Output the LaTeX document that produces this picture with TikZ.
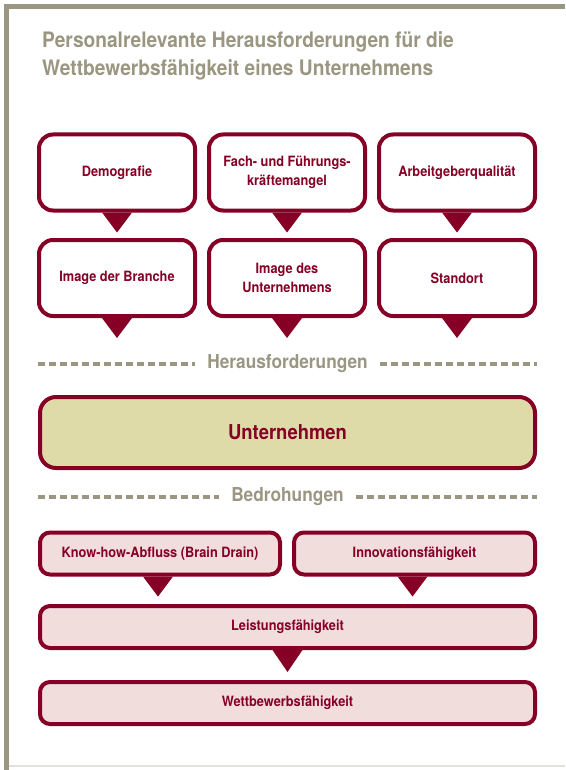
\documentclass[tikz,border=0pt]{standalone}
\usepackage{fontspec}
\setmainfont{TeX Gyre Heros}[FakeStretch=0.9]
\usepackage{tikz}
\usetikzlibrary{positioning}
\definecolor{HGray}{RGB}{154,150,130}
\definecolor{HRed}{RGB}{134,0,38}
\definecolor{HSand}{RGB}{223,219,168}
\definecolor{HRose}{RGB}{242,221,221}
\definecolor{HLine}{RGB}{226,226,216}

\begin{document}
\begin{tikzpicture}[
    x=1pt, y=-1pt,
    bubble/.style={
      draw=HRed,
      line width=4pt,
      rounded corners=14pt,
      fill=white,
      minimum width=156pt,
      minimum height=76pt,
      align=center,
      text=HRed,
      font=\fontsize{14.2}{19}\selectfont\bfseries
    },
    bar/.style={
      draw=HRed,
      line width=4pt,
      rounded corners=10pt,
      fill=HRose,
      minimum height=42pt,
      text height=10.5pt,
      text depth=3.5pt,
      text=HRed,
      font=\fontsize{14.2}{17}\selectfont\bfseries
    },
    core/.style={
      draw=HRed,
      line width=4pt,
      rounded corners=16pt,
      fill=HSand,
      minimum width=495pt,
      minimum height=71pt,
      text=HRed,
      font=\fontsize{20.5}{24}\selectfont\bfseries
    },
    heading/.style={
      text=HGray,
      inner xsep=12pt,
      font=\fontsize{19.2}{22}\selectfont\bfseries
    },
    titleline/.style={
      anchor=base west,
      inner sep=0pt,
      text=HGray,
      font=\fontsize{21.3}{28}\selectfont\bfseries
    },
    dashline/.style={draw=HGray, line width=4pt, dash pattern=on 7pt off 4pt},
    tail/.style={fill=HRed}
  ]
    \useasboundingbox (0,0) rectangle (565,770);

    % frame
    \draw[HGray, line width=5pt] (6.5,770) -- (6.5,6.5) -- (565,6.5);
    \draw[HLine, line width=1.5pt] (9,766) -- (565,766);

    \node[titleline] (title) at (42,48) {Personalrelevante Herausforderungen für die};
    \node[titleline] (subtitle) at (42,76) {Wettbewerbsfähigkeit eines Unternehmens};

    % Herausforderungen
    \node[bubble] (demo) at (117,172.5) {Demografie};
    \node[bubble] (fach) at (287,172.5) {Fach- und Führungs-\\kräftemangel};
    \node[bubble] (arbeit) at (457,172.5) {Arbeitgeberqualität};
    \node[bubble] (branche) at (117,278) {Image der Branche};
    \node[bubble] (image) at (287,278) {Image des\\Unternehmens};
    \node[bubble] (standort) at (457,278) {Standort};

    \foreach \n in {demo,fach,arbeit,branche,image,standort}
      \fill[tail] ([xshift=-15pt]\n.south) -- ([xshift=15pt]\n.south)
        -- ([yshift=-20pt]\n.south) -- cycle;

    \node[heading] (herausf) at (287.5,364) {Herausforderungen};
    \coordinate (hl) at (38,364);
    \coordinate (hr) at (537,364);
    \draw[dashline] (hl) -- (herausf.west);
    \draw[dashline] (herausf.east) -- (hr);

    \node[core] (unt) at (287.5,432.5) {Unternehmen};

    \node[heading] (bedroh) at (287.5,497) {Bedrohungen};
    \coordinate (bl) at (38,497);
    \coordinate (br) at (537,497);
    \draw[dashline] (bl) -- (bedroh.west);
    \draw[dashline] (bedroh.east) -- (br);

    % Bedrohungen
    \node[bar, minimum width=240pt] (know) at (160,553.5) {Know-how-Abfluss (Brain Drain)};
    \node[bar, minimum width=241pt] (innov) at (414.5,553.5) {Innovationsfähigkeit};
    \node[bar, minimum width=495pt] (leist) at (287.5,627) {Leistungsfähigkeit};
    \node[bar, minimum width=495pt] (wett) at (287.5,703) {Wettbewerbsfähigkeit};

    \fill[tail] ([xshift=-17pt]know.south) -- ([xshift=13pt]know.south)
      -- ([xshift=-2pt,yshift=-20pt]know.south) -- cycle;
    \fill[tail] ([xshift=-17pt]innov.south) -- ([xshift=13pt]innov.south)
      -- ([xshift=-2pt,yshift=-20pt]innov.south) -- cycle;
    \fill[tail] ([xshift=-15pt]leist.south) -- ([xshift=15pt]leist.south)
      -- ([yshift=-22pt]leist.south) -- cycle;
\end{tikzpicture}
\end{document}
